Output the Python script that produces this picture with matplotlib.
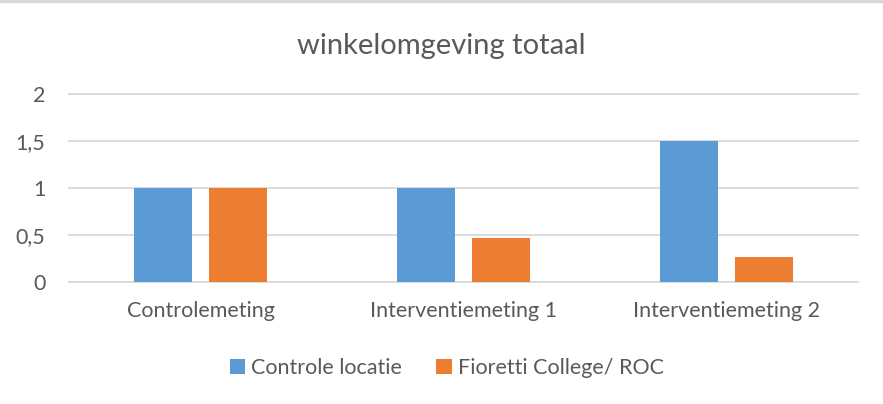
import numpy as np
import matplotlib
matplotlib.use("Agg")
import matplotlib.pyplot as plt
from matplotlib.lines import Line2D

categories = ["Controlemeting", "Interventiemeting 1", "Interventiemeting 2"]
controle_locatie = [1.0, 1.0, 1.5]
fioretti_roc = [1.0, 0.47, 0.27]
series_names = ["Controle locatie", "Fioretti College/ ROC"]
yticks = [0, 0.5, 1, 1.5, 2]
ytick_labels = ["0", "0,5", "1", "1,5", "2"]

plt.rcParams['font.family'] = ['Lato', 'DejaVu Sans']
text_col = "#595959"

fig = plt.figure(figsize=(8.83, 4.04), dpi=100)
ax = fig.add_axes([0.0781, 0.302, 0.8936, 0.465])

x = np.arange(len(categories))
w = 0.224
off = 0.1426
ax.bar(x - off, controle_locatie, w, color="#5B9BD5", label=series_names[0], zorder=3)
ax.bar(x + off, fioretti_roc, w, color="#ED7D31", label=series_names[1], zorder=3)

ax.set_xlim(-0.5, 2.5)
ax.set_ylim(0, 2)
ax.set_yticks(yticks)
ax.set_yticklabels(ytick_labels)
ax.set_xticks(x)
ax.set_xticklabels(categories)
ax.tick_params(axis="both", length=0, labelsize=15.5, labelcolor=text_col)
ax.tick_params(axis="y", pad=17)
ax.tick_params(axis="x", pad=14)
ax.grid(axis="y", color="#d9d9d9", linewidth=1.3, zorder=0)
for s in ax.spines.values():
    s.set_visible(False)
ax.axhline(0, color="#d9d9d9", linewidth=1.3, zorder=1)
for gl in ax.get_ygridlines():
    gl.set_clip_on(False)

fig.text(0.5, 0.887, "winkelomgeving totaal", ha="center", va="center",
         fontsize=21, color=text_col)

leg = fig.legend(loc="center", bbox_to_anchor=(0.506, 0.09), ncol=2, frameon=False,
                 fontsize=15.5, handlelength=0.7, handleheight=0.7,
                 handletextpad=0.3, columnspacing=1.6)
for t in leg.get_texts():
    t.set_color(text_col)

fig.add_artist(Line2D([0, 1], [0.997, 0.997], transform=fig.transFigure,
                      color="#d9d9d9", linewidth=2.5))

fig.savefig("out.png", dpi=100)
